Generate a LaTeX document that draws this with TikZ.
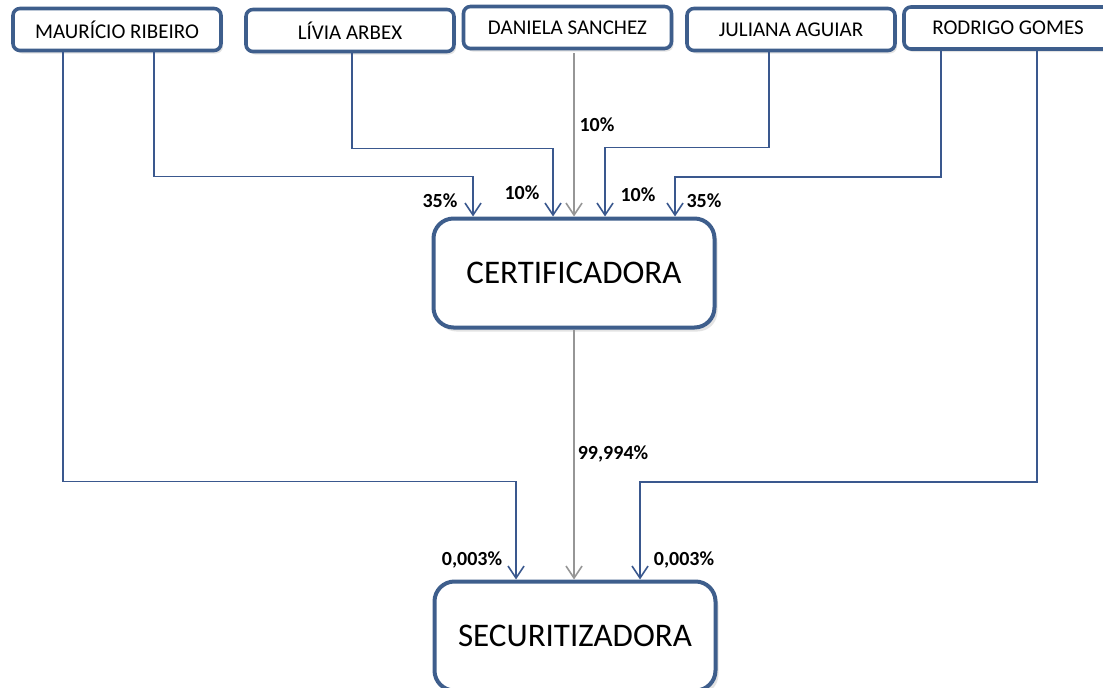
\documentclass[tikz,border=0pt]{standalone}
\usepackage{fontspec}
\setmainfont{Carlito}
\usetikzlibrary{arrows.meta,shadows}
\definecolor{boxblue}{RGB}{62,94,140}
\definecolor{lineblue}{RGB}{58,88,142}
\definecolor{linegray}{RGB}{150,150,150}
\tikzset{
  person/.style={draw=boxblue, line width=3.6pt, fill=white, rounded corners=7pt,
    minimum width=208pt, minimum height=42pt, inner sep=0pt,
    font=\fontsize{21}{25}\selectfont,
    drop shadow={opacity=0.22, shadow xshift=2pt, shadow yshift=-3pt}},
  company/.style={draw=boxblue, line width=4pt, fill=white, rounded corners=20pt,
    minimum width=281pt, minimum height=109pt, inner sep=0pt,
    font=\fontsize{33}{39}\selectfont,
    drop shadow={opacity=0.22, shadow xshift=3pt, shadow yshift=-4pt}},
  conn/.style={draw=lineblue, line width=1.6pt,
    -{Straight Barb[length=12pt,width=16pt,line width=1.6pt]}},
  conngray/.style={draw=linegray, line width=1.6pt,
    -{Straight Barb[length=12pt,width=16pt,line width=1.6pt]}},
  pct/.style={font=\bfseries\fontsize{20}{23}\selectfont, inner sep=0pt}
}
\begin{document}
\begin{tikzpicture}[x=1pt,y=-1pt]
\useasboundingbox (0,0) rectangle (1103,688);

% top boxes
\node[person] (mr) at (117,29.5) {MAURÍCIO RIBEIRO};
\node[person] (lv) at (350,30.5) {LÍVIA ARBEX};
\node[person] (dn) at (567.5,27.5) {DANIELA SANCHEZ};
\node[person] (jl) at (791,29.5) {JULIANA AGUIAR};
\node[person] (rg) at (1008,28) {RODRIGO GOMES};

% companies
\node[company] (cert) at (574,273) {CERTIFICADORA};
\node[company] (sec) at (575,636) {SECURITIZADORA};

% connectors
\draw[conn] ([xshift=52pt]mr.south west) -- ++(0,429) -| ([xshift=-59pt]sec.north);
\draw[conn] ([xshift=143pt]mr.south west) -- ++(0,124) -| ([xshift=-101pt]cert.north);
\draw[conn] ([xshift=2pt]lv.south) -- ++(0,95) -| ([xshift=-21pt]cert.north);
\draw[conngray] ([yshift=-3pt]dn.south -| cert.north) -- (cert.north);
\draw[conn] ([xshift=-22pt]jl.south) -- ++(0,95) -| ([xshift=31pt]cert.north);
\draw[conn] ([xshift=39pt]rg.south west) -- ++(0,126) -| ([xshift=101pt]cert.north);
\draw[conn] ([xshift=135pt]rg.south west) -- ++(0,431) -| ([xshift=65pt]sec.north);
\draw[conngray] (cert.south) -- (sec.north -| cert.south);

% labels
\node[pct] (l1) at (597,125) {10\%};
\node[pct] (l2) at (440,201) {35\%};
\node[pct] (l3) at (522,193) {10\%};
\node[pct] (l4) at (638,195) {10\%};
\node[pct] (l5) at (704,201) {35\%};
\node[pct] (l6) at (613,454) {99,994\%};
\node[pct] (l7) at (472,560) {0,003\%};
\node[pct] (l8) at (684,560) {0,003\%};
\end{tikzpicture}
\end{document}
